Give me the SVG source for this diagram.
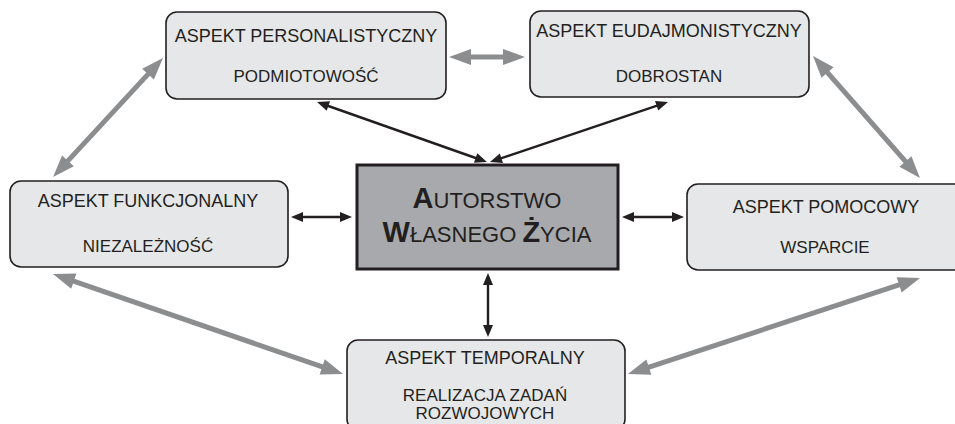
<svg xmlns="http://www.w3.org/2000/svg" width="955" height="424" viewBox="0 0 955 424">
<style>
.box{fill:#e6e7e8;stroke:#231f20;stroke-width:1.6}
.core{fill:#a7a9ac;stroke:#231f20;stroke-width:3}
.t{font-family:"Liberation Sans",Arial,sans-serif;fill:#231f20;text-anchor:middle}
.t1{font-size:18px}
.t2{font-size:17px}
.big{font-size:29px;font-weight:bold}
.sm{font-size:22px}
.g{stroke:#8c8d8f;stroke-width:5;fill:none;marker-start:url(#gh);marker-end:url(#gh)}
.k{stroke:#231f20;stroke-width:2.4;fill:none;marker-start:url(#kh);marker-end:url(#kh)}
</style>
<defs>
<marker id="gh" markerUnits="userSpaceOnUse" markerWidth="22" markerHeight="16" refX="11" refY="8" orient="auto-start-reverse" overflow="visible">
<path d="M0,0 L22,8 L0,16 z" fill="#8c8d8f"/>
</marker>
<marker id="kh" markerUnits="userSpaceOnUse" markerWidth="12" markerHeight="10" refX="6" refY="5" orient="auto-start-reverse" overflow="visible">
<path d="M0,0 L12,5 L0,10 z" fill="#231f20"/>
</marker>
</defs>
<rect width="955" height="424" fill="#ffffff"/>
<g id="connectors">
<line class="g" x1="60.5" y1="168.9" x2="155.5" y2="66.1"/>
<line class="g" x1="820.3" y1="64.3" x2="912.7" y2="169.7"/>
<line class="g" x1="460" y1="57" x2="514" y2="57"/>
<line class="g" x1="63.4" y1="277.6" x2="332.6" y2="370.4"/>
<line class="g" x1="638.4" y1="370.6" x2="909.6" y2="281.4"/>
<line class="k" x1="322.7" y1="104.0" x2="481.3" y2="160.0"/>
<line class="k" x1="662.3" y1="103.9" x2="495.7" y2="160.1"/>
<line class="k" x1="297" y1="217" x2="346" y2="217"/>
<line class="k" x1="628" y1="217" x2="678" y2="217"/>
<line class="k" x1="488" y1="279" x2="488" y2="331"/>
</g>
<g id="personalistyczny">
<rect class="box" x="166" y="12" width="280" height="87" rx="11"/>
<text class="t t1" x="306" y="42">ASPEKT PERSONALISTYCZNY</text>
<text class="t t2" x="306" y="82">PODMIOTOWOŚĆ</text>
</g>
<g id="eudajmonistyczny">
<rect class="box" x="530" y="11" width="279" height="86" rx="11"/>
<text class="t t1" x="669" y="37">ASPEKT EUDAJMONISTYCZNY</text>
<text class="t t2" x="669" y="82">DOBROSTAN</text>
</g>
<g id="funkcjonalny">
<rect class="box" x="10" y="181" width="278" height="86" rx="11"/>
<text class="t t1" x="148" y="207">ASPEKT FUNKCJONALNY</text>
<text class="t t2" x="148" y="252">NIEZALEŻNOŚĆ</text>
</g>
<g id="pomocowy">
<rect class="box" x="687" y="184" width="278" height="86" rx="11"/>
<text class="t t1" x="826" y="213">ASPEKT POMOCOWY</text>
<text class="t t2" x="825" y="253">WSPARCIE</text>
</g>
<g id="temporalny">
<rect class="box" x="347" y="340" width="278" height="90" rx="11"/>
<text class="t t1" x="485" y="364">ASPEKT TEMPORALNY</text>
<text class="t t2" x="485" y="401">REALIZACJA ZADAŃ</text>
<text class="t t2" x="485" y="419">ROZWOJOWYCH</text>
</g>
<g id="autorstwo">
<rect class="core" x="357" y="165" width="261" height="104"/>
<text class="t" x="487" y="208"><tspan class="big">A</tspan><tspan class="sm">UTORSTWO</tspan></text>
<text class="t" x="487" y="242"><tspan class="big">W</tspan><tspan class="sm">ŁASNEGO </tspan><tspan class="big">Ż</tspan><tspan class="sm">YCIA</tspan></text>
</g>
</svg>
